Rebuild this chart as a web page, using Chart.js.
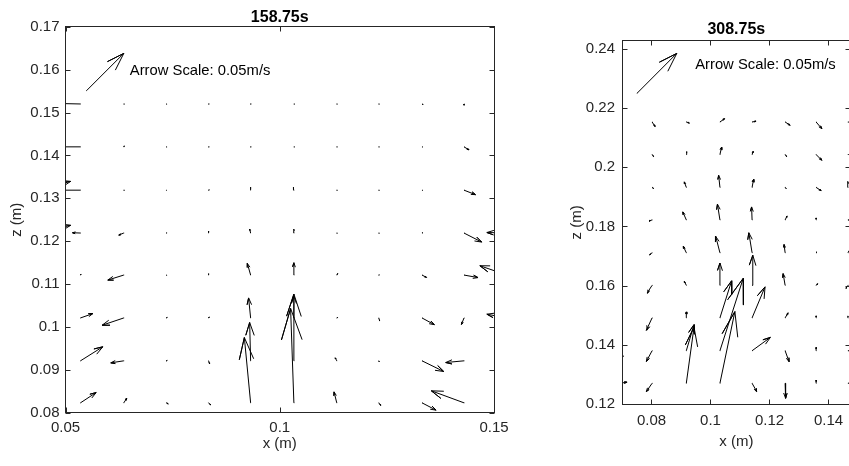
<!DOCTYPE html>
<html>
<head>
<meta charset="utf-8">
<script src="https://cdn.jsdelivr.net/npm/chart.js@4.4.1/dist/chart.umd.min.js"></script>
<style>
  html, body { margin: 0; padding: 0; background: #fff; overflow: hidden; width: 849px; height: 466px; }
  .panel { position: absolute; top: 0; height: 466px; }
  #left { left: 0; width: 540px; }
  #right { left: 560px; width: 300px; }
</style>
</head>
<body>
<div class="panel" id="left"><canvas id="quiver-left"></canvas></div>
<div class="panel" id="right"><canvas id="quiver-right"></canvas></div>
<script>
// PIV velocity fields, two snapshots. Grid positions in metres,
// velocities in mm/s (u = horizontal, w = vertical), rows bottom -> top.

// --- 158.75 s ---
const LEFT_X = [0.0435, 0.0535, 0.0636, 0.0735, 0.0834, 0.0932, 0.1033, 0.1133, 0.1231, 0.1332, 0.1430, 0.1530];
const LEFT_Z = [0.0823, 0.0921, 0.1021, 0.1121, 0.1219, 0.1319, 0.1420, 0.1520];
const LEFT_U = [
    [0, 21.0, 4.0, 2.7, 2.7, -8.4, -4.4, -3.6, 2.7, 18.8, -43.8, 0],
    [0, 29.9, -17.4, 1.3, 1.3, -1.3, 0, -2.0, 0.7, 29.1, -24.5, 0],
    [0, 16.5, -29.1, 1.3, 0.7, -2.7, 0, 1.3, 1.3, 16.5, -3.4, -26.8],
    [0, 0.7, -21.4, 0.7, 0, -4.4, 0, 1.3, 0.7, 6.0, 18.8, -36.2],
    [44.2, -10.7, -6.7, 0.7, 0, -1.3, 0, 0.7, 0.7, 0.7, 23.7, -26.8],
    [44.2, -32.0, 0.7, 0.4, 0.7, 0, -0.7, 0.7, 0.7, 0.7, 15.4, 0],
    [0, -32.0, 0.7, 0.7, 0.7, 0.7, 0.7, 0.7, 0.7, 0.7, 6.7, 0],
    [0, -32.0, 0.7, 0.7, 0.7, 0.7, 0.7, 0.7, 0.7, 1.3, 0, 0],
];
const LEFT_W = [
    [0, 13.8, 6.0, -1.3, -2.7, 87.5, 126.4, 14.7, -3.4, -9.8, 16.1, 0],
    [0, 18.8, -2.7, 0.5, -4.0, 51.3, 89.4, 4.0, -1.3, -14.3, -2.3, 0],
    [0, 5.8, -9.8, 0.7, 1.3, 26.8, 29.5, 0.7, -4.0, -9.0, -8.7, 5.0],
    [0, 1.3, -6.7, 0, 2.0, 15.7, 16.5, 2.0, 0.3, -3.1, -3.4, 12.5],
    [10.3, 0.4, -2.7, 0.4, 2.7, 5.4, 5.4, 0, 0, 0.7, -12.1, 0.7],
    [11.7, 0, 0, 0, 0.4, 4.0, 4.0, 0, 0, 0, -6.0, 0],
    [0, 0, 1.3, 0, 0, 0, 0, 0, 0, 0, -4.0, 0],
    [0, 0.7, 0, 0, 0, 0, 0, 0, 0, -0.7, -1.7, 0],
];
const LEFT_X_TICKS = [0.05, 0.1, 0.15];
const LEFT_Z_TICKS = [0.08, 0.09, 0.1, 0.11, 0.12, 0.13, 0.14, 0.15, 0.16, 0.17];

// --- 308.75 s ---
const RIGHT_X = [0.0690, 0.0802, 0.0918, 0.1032, 0.1141, 0.1253, 0.1358, 0.1466];
const RIGHT_Z = [0.1270, 0.1380, 0.1491, 0.1601, 0.1711, 0.1822, 0.1932, 0.2043, 0.2153];
const RIGHT_U = [
    [10.1, -7.2, 9.7, 18.8, 5.9, 0.6, 0, 3.8],
    [5.0, -7.2, 9.7, 29.3, 23.0, 5.0, 0, 2.5],
    [0, -7.2, 0, 14.7, 16.3, 3.8, 0, 0],
    [0, -6.3, -2.5, 0, 0.9, -2.5, 1.9, -2.5],
    [0, -3.1, -3.8, -5.4, -4.1, -1.3, 0.6, 1.9],
    [0, -3.8, -4.4, -3.1, -0.6, 2.5, 0, 1.9],
    [0, 1.9, -2.5, -1.6, 1.9, 1.3, 6.3, 0],
    [0, 1.9, 0.6, 2.1, 1.3, 1.9, 7.2, 0.6],
    [0, 3.8, 3.8, 5.9, 5.0, 6.3, 7.2, 0.6],
];
const RIGHT_W = [
    [1.3, -10.4, 70.4, 89.9, -10.4, -18.8, 3.8, 0.6],
    [-7.5, -13.4, 32.7, 90.8, 16.7, -13.8, 4.1, 0],
    [0, -15.5, 7.5, 46.5, 38.9, 6.3, 2.5, 2.5],
    [0, -9.7, 5.0, 28.0, 37.7, 14.7, 1.9, -3.8],
    [0, -2.5, 8.2, 21.0, 25.1, 10.4, 1.3, 2.5],
    [0, -1.3, 10.1, 19.8, 16.3, 5.0, 2.5, 0],
    [0, -1.3, 6.9, 15.1, 10.1, -1.3, -4.1, 7.5],
    [0, -2.5, 3.8, 9.2, 3.8, -2.5, -7.2, 0],
    [0, -5.7, -1.3, 4.1, 0.9, -4.1, -8.4, 0],
];
const RIGHT_X_TICKS = [0.08, 0.1, 0.12, 0.14];
const RIGHT_Z_TICKS = [0.12, 0.14, 0.16, 0.18, 0.2, 0.22, 0.24];

// reference arrow, mm/s
const REF_U = 50;
const REF_W = 50;
const REF_LABEL = 'Arrow Scale: 0.05m/s';

const FONT = "'Liberation Sans', Arial, Helvetica, sans-serif";
const INK = '#262626';

function fmt(v) {
    return String(Math.round(v * 10000) / 10000);
}

// MATLAB-style quiver: shaft from base to tip plus two head strokes.
function quiverPoints(xs, zs, U, W, k) {
    const a = 0.33, b = 0.33;
    const pts = [];
    zs.forEach((z, j) => {
        xs.forEach((x, i) => {
            const u = U[j][i] * k;
            const w = W[j][i] * k;
            if (u === 0 && w === 0) return;
            const tx = x + u, tz = z + w;
            pts.push(
                { x: x, y: z },
                { x: tx, y: tz },
                { x: tx - a * (u + b * w), y: tz - a * (w - b * u) },
                { x: tx, y: tz },
                { x: tx - a * (u - b * w), y: tz - a * (w + b * u) },
                { x: null, y: null }
            );
        });
    });
    return pts;
}

// box, inward ticks and the scale-arrow caption
const matlabAxes = {
    id: 'matlabAxes',
    afterDatasetsDraw(chart, args, opts) {
        const { ctx, chartArea: a, scales: { x, y } } = chart;
        const L = Math.floor(a.left) + 0.5, R = Math.floor(a.right) + 0.5;
        const T = Math.floor(a.top) + 0.5, B = Math.floor(a.bottom) + 0.5;
        ctx.save();
        ctx.strokeStyle = INK;
        ctx.lineWidth = 1;
        ctx.strokeRect(L, T, R - L, B - T);
        ctx.beginPath();
        x.ticks.forEach((t) => {
            const px = Math.round(x.getPixelForValue(t.value)) + 0.5;
            ctx.moveTo(px, B); ctx.lineTo(px, B - 5);
            ctx.moveTo(px, T); ctx.lineTo(px, T + 5);
        });
        y.ticks.forEach((t) => {
            const py = Math.round(y.getPixelForValue(t.value)) + 0.5;
            ctx.moveTo(L, py); ctx.lineTo(L + 5, py);
            ctx.moveTo(R, py); ctx.lineTo(R - 5, py);
        });
        ctx.stroke();

        ctx.fillStyle = '#000';
        ctx.font = '14.8px ' + FONT;
        ctx.textBaseline = 'middle';
        ctx.textAlign = 'left';
        ctx.fillText(REF_LABEL, x.getPixelForValue(opts.noteX), y.getPixelForValue(opts.noteZ));
        ctx.restore();
    },
};

function buildChart(canvasId, p) {
    const arrowStyle = {
        showLine: true,
        borderColor: '#000',
        borderWidth: 1,
        borderCapStyle: 'round',
        pointRadius: 0,
        pointHoverRadius: 0,
    };
    const tickFont = { family: FONT, size: 15 };
    return new Chart(document.getElementById(canvasId), {
        type: 'scatter',
        data: {
            datasets: [
                { ...arrowStyle, data: quiverPoints(p.xs, p.zs, p.u, p.w, p.k) },
                { ...arrowStyle, data: quiverPoints([p.refAt[0]], [p.refAt[1]], [[REF_U]], [[REF_W]], p.k) },
            ],
        },
        options: {
            responsive: true,
            maintainAspectRatio: false,
            animation: false,
            events: [],
            layout: { padding: { left: 0, top: 0, right: p.padRight, bottom: 0 } },
            plugins: {
                legend: { display: false },
                tooltip: { enabled: false },
                title: {
                    display: true,
                    text: p.title,
                    fullSize: false,
                    color: '#000',
                    font: { family: FONT, size: 16, weight: 'bold', lineHeight: 1.1 },
                    padding: p.titlePad,
                },
                matlabAxes: { noteX: p.note[0], noteZ: p.note[1] },
            },
            scales: {
                x: {
                    type: 'linear',
                    min: p.xRange[0],
                    max: p.xRange[1],
                    grid: { display: false, drawTicks: false },
                    border: { display: false },
                    afterBuildTicks: (s) => { s.ticks = p.xTicks.map((v) => ({ value: v })); },
                    afterFit: (s) => { s.height = p.xHeight; },
                    ticks: { padding: p.xTickPad, color: INK, font: tickFont, maxRotation: 0, autoSkip: false, callback: fmt },
                    title: { display: true, text: 'x (m)', color: INK, font: tickFont, padding: { top: 0, bottom: p.xTitlePad } },
                },
                y: {
                    type: 'linear',
                    min: p.zRange[0],
                    max: p.zRange[1],
                    grid: { display: false, drawTicks: false },
                    border: { display: false },
                    afterBuildTicks: (s) => { s.ticks = p.zTicks.map((v) => ({ value: v })); },
                    afterFit: (s) => { s.width = p.yWidth; },
                    ticks: { padding: p.yTickPad, color: INK, font: tickFont, autoSkip: false, callback: fmt },
                    title: { display: true, text: 'z (m)', color: INK, font: tickFont, padding: { top: p.yTitlePad, bottom: 0 } },
                },
            },
        },
        plugins: [matlabAxes],
    });
}

buildChart('quiver-left', {
    xs: LEFT_X, zs: LEFT_Z, u: LEFT_U, w: LEFT_W,
    k: 1.741e-4,
    refAt: [0.0549, 0.1551],
    note: [0.0650, 0.1597],
    title: '158.75s',
    titlePad: { top: 9.2, bottom: 0 },
    xRange: [0.05, 0.15], zRange: [0.08, 0.17],
    xTicks: LEFT_X_TICKS, zTicks: LEFT_Z_TICKS,
    yWidth: 65.5, xHeight: 53.3, padRight: 46,
    xTickPad: 5.8, yTickPad: 6, xTitlePad: 13, yTitlePad: 8,
});

buildChart('quiver-right', {
    xs: RIGHT_X, zs: RIGHT_Z, u: RIGHT_U, w: RIGHT_W,
    k: 2.694e-4,
    refAt: [0.0751, 0.2250],
    note: [0.0948, 0.2345],
    title: '308.75s',
    titlePad: { top: 21, bottom: 2 },
    xRange: [0.07, 0.1475], zRange: [0.12, 0.2428],
    xTicks: RIGHT_X_TICKS, zTicks: RIGHT_Z_TICKS,
    yWidth: 62, xHeight: 62, padRight: 9.4,
    xTickPad: 8, yTickPad: 7, xTitlePad: 15, yTitlePad: 8,
});
</script>
</body>
</html>
